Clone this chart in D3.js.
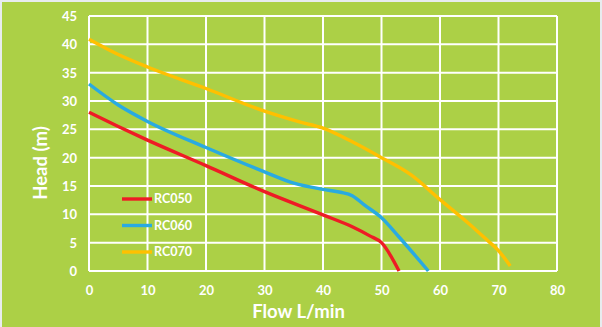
<!DOCTYPE html>
<html>
<head>
<meta charset="utf-8">
<script src="https://cdn.jsdelivr.net/npm/d3@7"></script>
<style>
html,body{margin:0;padding:0;background:#e8ecef;}
svg{display:block;}
text{font-family:Lato,"Open Sans",sans-serif;font-weight:bold;fill:#fff;}
</style>
</head>
<body>
<svg id="chart" width="602" height="327"></svg>
<script>
const seriesNames = ["RC050", "RC060", "RC070"];
const seriesColors = ["#ee1c25", "#29aae1", "#ffc000"];
const rc050 = [[0,28],[5,25.5],[10,23.1],[20,18.6],[30,14],[40,9.9],[45,7.8],[48,6.2],[50,5],[53,0]];
const rc060 = [[0,33],[5,29.3],[10,26.4],[20,21.8],[30,17.5],[35,15.5],[40,14.4],[43,13.9],[45,13.3],[47,11.7],[50,9.4],[53,6],[58,0]];
const rc070 = [[0,40.9],[5,38.2],[10,36],[20,32.2],[30,28.2],[36,26.3],[40,25.2],[45,22.8],[50,20],[55,17],[60,12.6],[65,8.3],[68,5.5],[70,3.6],[72,0.9]];
const xTicks = [0,10,20,30,40,50,60,70,80];
const yTicks = [0,5,10,15,20,25,30,35,40,45];
const xTitle = "Flow L/min";
const yTitle = "Head (m)";

const svg = d3.select("#chart");
svg.append("rect").attr("x",2).attr("y",2).attr("width",598).attr("height",325).attr("fill","#acd046");

const x = d3.scaleLinear().domain([0,80]).range([89,557]);
const y = d3.scaleLinear().domain([0,45]).range([271,16]);

const grid = svg.append("g").attr("stroke","#fff").attr("stroke-width",2);
grid.selectAll(".vx").data(xTicks).join("line")
  .attr("x1",d=>x(d)).attr("x2",d=>x(d)).attr("y1",y(0)).attr("y2",y(45));
grid.selectAll(".hy").data(yTicks).join("line")
  .attr("y1",d=>y(d)).attr("y2",d=>y(d)).attr("x1",x(0)).attr("x2",x(80));

const xAxis = d3.axisBottom(x).tickValues(xTicks).tickSize(0).tickPadding(0);
const gx = svg.append("g").attr("transform","translate(0,295)").call(xAxis);
gx.select(".domain").remove();
gx.selectAll("text").attr("dy",0).style("font-size","13px").attr("fill","#fff");

const yAxis = d3.axisLeft(y).tickValues(yTicks).tickSize(0).tickPadding(0);
const gy = svg.append("g").attr("transform","translate(77,0)").call(yAxis);
gy.select(".domain").remove();
gy.selectAll("text").attr("dy","0.35em").style("font-size","13px").attr("fill","#fff");

const line = d3.line().x(d=>x(d[0])).y(d=>y(d[1])).curve(d3.curveMonotoneX);
[rc050, rc060, rc070].forEach((s,i)=>{
  svg.append("path").attr("d",line(s)).attr("fill","none")
    .attr("stroke",seriesColors[i]).attr("stroke-width",3.4).attr("stroke-linecap","butt");
});

const legY = [199, 225.5, 252];
seriesNames.forEach((n,i)=>{
  svg.append("line").attr("x1",122).attr("x2",152).attr("y1",legY[i]).attr("y2",legY[i])
    .attr("stroke",seriesColors[i]).attr("stroke-width",3.4);
  svg.append("text").attr("x",154).attr("y",legY[i]).attr("dy","0.35em")
    .style("font-size","12.5px").text(n);
});

svg.append("text").attr("x",298.5).attr("y",318).attr("text-anchor","middle")
  .style("font-size","18.5px").text(xTitle);
svg.append("text").attr("transform","translate(47,163) rotate(-90)").attr("text-anchor","middle")
  .style("font-size","18.5px").text(yTitle);
</script>
</body>
</html>
